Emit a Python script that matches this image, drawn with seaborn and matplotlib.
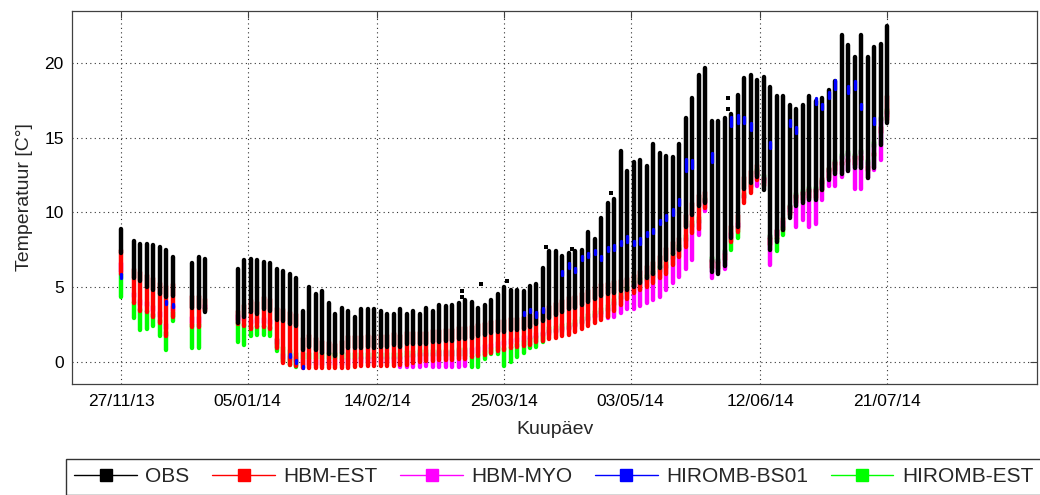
import numpy as np
import pandas as pd
import matplotlib
matplotlib.use("Agg")
import matplotlib.pyplot as plt
from matplotlib.lines import Line2D
import seaborn as sns

# ---------------- data (days since 27/11/2013) ----------------
days = [0,
        4, 6, 8, 10, 12, 14, 16,
        22, 24, 26,
        36, 38, 40, 42, 44, 46, 48, 50, 52, 54,
        56, 58, 60, 62, 64, 66, 68, 70, 72, 74,
        76, 78, 80, 82, 84, 86, 88, 90, 92, 94,
        96, 98, 100, 102, 104, 106, 108, 110, 112, 114,
        116, 118, 120, 122, 124, 126, 128, 130, 132, 134,
        136, 138, 140, 142, 144, 146, 148, 150, 152, 154,
        156, 158, 160, 162, 164, 166, 168, 170, 172, 174,
        176, 178, 180, 182, 184, 186, 188, 190, 192, 194,
        196, 198, 200, 202, 204, 206, 208, 210, 212, 214,
        216, 218, 220, 222, 224, 226, 228, 230, 232, 234,
        236]

obs_hi = [8.9,
          8.1, 7.9, 7.9, 7.8, 7.7, 7.5, 7.0,
          6.6, 7.0, 6.9,
          6.2, 6.8, 6.9, 6.8, 6.7, 6.6, 6.2, 6.1, 5.9, 5.6,
          3.4, 5.0, 4.5, 4.7, 3.9, 3.2, 3.6, 3.4, 3.0, 3.5,
          3.5, 3.5, 3.4, 3.2, 3.2, 3.5, 3.2, 3.4, 3.2, 3.6,
          3.4, 3.8, 3.7, 3.8, 3.9, 4.1, 4.0, 3.6, 3.8, 4.1,
          4.5, 5.0, 4.8, 4.8, 4.7, 5.1, 5.2, 6.3, 7.4, 7.4,
          7.1, 7.3, 7.4, 7.5, 8.7, 8.2, 9.6, 10.6, 10.9, 14.1,
          12.8, 13.4, 13.5, 13.1, 14.6, 14.0, 13.8, 13.7, 14.6, 16.3,
          17.7, 19.2, 19.7, 16.1, 16.1, 16.3, 16.6, 17.9, 19.0, 19.2,
          18.9, 19.1, 18.4, 17.8, 17.8, 17.2, 16.9, 17.2, 17.8, 17.5,
          17.7, 18.2, 18.8, 21.9, 21.2, 20.4, 21.9, 20.4, 21.1, 21.3,
          22.5]

obs_lo = [7.3,
          5.6, 5.4, 5.0, 4.8, 4.5, 4.3, 4.4,
          3.6, 3.6, 3.35,
          2.6, 3.0, 3.3, 3.2, 3.5, 3.4, 2.8, 2.7, 2.5, 2.4,
          0.8, 1.0, 0.8, 0.6, 0.5, 0.4, 0.6, 0.9, 0.9, 0.9,
          1.0, 0.9, 1.0, 1.0, 1.1, 1.0, 1.2, 1.2, 1.2, 1.2,
          1.3, 1.3, 1.4, 1.4, 1.5, 1.5, 1.6, 1.7, 1.8, 1.9,
          2.0, 2.0, 2.1, 2.1, 2.2, 2.3, 2.5, 2.7, 2.9, 3.1,
          3.3, 3.5, 3.6, 3.8, 4.0, 4.2, 4.4, 4.5, 4.6, 4.7,
          4.8, 5.0, 5.3, 5.6, 5.9, 6.3, 6.8, 7.2, 7.5, 9.0,
          9.8, 10.4, 10.6, 6.0, 5.9, 6.4, 8.3, 9.0, 11.6, 12.0,
          12.4, 11.5, 7.5, 8.0, 8.8, 9.6, 10.4, 10.6, 10.8, 10.8,
          11.5, 12.2, 12.6, 12.6, 12.8, 13.0, 13.0, 12.3, 13.0, 14.5,
          16.0]

hbm_est_lo = [5.9,
              3.9, 3.4, 3.3, 3.0, 2.6, 1.7, 3.0,
              2.3, 2.3, 3.4,
              2.5, 2.4, 2.2, 2.3, 2.3, 2.2, 0.9, -0.1, -0.2, -0.3,
              -0.45, -0.45, -0.45, -0.45, -0.45, -0.45, -0.4, -0.4, -0.35, -0.3,
              -0.3, -0.3, -0.3, -0.3, -0.3, -0.25, -0.2, -0.1, 0.0, 0.05,
              0.05, 0.1, 0.1, 0.1, 0.15, 0.15, 0.3, 0.35, 0.45, 0.6,
              0.7, 0.8, 0.9, 1.0, 1.05, 1.1, 1.3, 1.4, 1.5, 1.6,
              1.7, 1.8, 2.0, 2.2, 2.4, 2.6, 2.8, 3.0, 3.4, 3.8,
              4.2, 4.6, 4.8, 5.0, 5.3, 5.6, 5.9, 6.5, 7.0, 7.7,
              8.6, 8.9, 10.3, 6.3, 6.2, 6.8, 8.0, 8.7, 10.6, 11.3,
              12.2, 11.8, 7.8, 8.2, 8.8, 9.8, 10.6, 10.8, 11.0, 11.0,
              11.5, 12.3, 12.8, 13.2, 13.4, 13.2, 13.5, 12.8, 14.0, 15.7,
              16.2]

hbm_est_hi = [7.5,
              6.2, 6.0, 5.8, 5.6, 5.3, 5.1, 5.2,
              4.4, 4.4, 4.2,
              3.4, 3.8, 4.1, 4.0, 4.3, 4.2, 3.6, 3.5, 3.3, 3.2,
              1.6, 1.8, 1.6, 1.4, 1.3, 1.2, 1.4, 1.7, 1.7, 1.7,
              1.8, 1.7, 1.8, 1.8, 1.9, 1.8, 2.0, 2.0, 2.0, 2.0,
              2.1, 2.1, 2.2, 2.2, 2.3, 2.3, 2.4, 2.5, 2.6, 2.7,
              2.8, 2.8, 2.9, 2.9, 3.0, 3.1, 3.3, 3.5, 3.7, 3.9,
              4.1, 4.3, 4.4, 4.6, 4.8, 5.0, 5.2, 5.3, 5.4, 5.5,
              5.6, 5.8, 6.1, 6.4, 6.7, 7.1, 7.6, 8.0, 8.3, 9.8,
              10.6, 11.2, 11.4, 6.8, 6.7, 7.2, 9.1, 9.8, 12.4, 12.8,
              13.2, 12.3, 8.3, 8.8, 9.6, 10.4, 11.2, 11.4, 11.6, 11.6,
              12.3, 13.0, 13.4, 13.4, 13.6, 13.8, 13.8, 13.1, 13.8, 15.3,
              17.8]

hbm_myo_lo = [6.0,
              4.3, 3.8, 3.7, 3.4, 3.0, 2.2, 3.4,
              2.6, 2.6, 3.5,
              2.8, 2.7, 2.5, 2.6, 2.6, 2.5, 1.2, 0.2, 0.1, 0.0,
              -0.2, -0.2, -0.2, -0.2, -0.2, -0.2, -0.2, -0.2, -0.1, -0.1,
              -0.1, -0.1, -0.1, -0.1, -0.1, -0.35, -0.35, -0.35, -0.35, -0.3,
              -0.33, -0.33, -0.33, -0.33, -0.33, -0.3, 0.5, 0.6, 0.7, 0.9,
              1.0, 1.1, 1.2, 1.3, 1.4, 1.5, 1.6, 1.7, 1.8, 1.9,
              2.0, 2.1, 2.3, 2.5, 2.7, 2.9, 3.0, 2.9, 3.0, 3.25,
              3.5, 3.5, 3.7, 3.9, 4.1, 4.35, 4.8, 5.25, 5.7, 6.2,
              6.8, 8.5, 10.1, 5.6, 6.0, 6.2, 8.2, 8.9, 11.0, 11.6,
              11.8, 12.0, 6.5, 8.4, 9.0, 10.0, 9.05, 9.5, 9.05, 9.2,
              10.8, 11.8, 11.8, 12.4, 12.8, 11.6, 11.6, 12.3, 12.85, 13.5,
              16.4]

hbm_myo_hi = [6.6,
              4.6, 4.1, 4.0, 3.7, 3.3, 2.5, 3.7,
              3.0, 3.0, 3.8,
              3.1, 3.0, 2.8, 2.9, 2.9, 2.8, 1.5, 0.5, 0.4, 0.3,
              0.1, 0.1, 0.1, 0.1, 0.1, 0.1, 0.2, 0.2, 0.2, 0.3,
              0.3, 0.3, 0.3, 0.3, 0.3, 0.3, 0.4, 0.5, 0.6, 0.6,
              0.6, 0.7, 0.7, 0.7, 0.8, 0.8, 0.9, 1.0, 1.1, 1.2,
              1.3, 1.4, 1.5, 1.6, 1.7, 1.7, 1.9, 2.0, 2.1, 2.2,
              2.3, 2.4, 2.6, 2.8, 3.0, 3.2, 3.4, 3.6, 4.0, 4.4,
              4.8, 5.2, 5.4, 5.6, 5.9, 6.2, 6.5, 7.1, 7.6, 8.3,
              9.2, 9.5, 10.9, 6.9, 6.8, 7.4, 8.6, 9.3, 11.2, 11.9,
              12.8, 12.4, 8.4, 8.8, 9.4, 10.4, 11.2, 11.4, 11.6, 11.6,
              12.1, 12.9, 13.4, 13.8, 14.0, 13.8, 14.1, 13.4, 14.6, 16.3,
              16.8]

hiromb_est_lo = [4.3,
                 2.9, 2.1, 2.2, 2.4, 1.7, 0.8, 2.7,
                 0.9, 0.9, 3.5,
                 1.3, 1.1, 1.7, 1.8, 1.8, 1.7, 0.7, 0.0, -0.25, -0.35,
                 0.2, 0.2, 0.2, 0.2, 0.2, 0.2, 0.2, 0.2, 0.2, 0.2,
                 0.2, 0.2, 0.2, 0.2, 0.2, 0.2, 0.3, 0.3, 0.4, 0.4,
                 0.4, 0.4, 0.4, 0.4, 0.4, 0.4, -0.33, -0.33, 0.2, 0.5,
                 0.5, -0.3, 0.0, 0.3, 0.6, 0.9, 1.0, 1.3, 1.9, 2.0,
                 2.1, 2.2, 2.4, 2.6, 2.8, 3.0, 3.2, 3.4, 3.8, 4.2,
                 4.6, 5.0, 5.2, 5.4, 5.7, 6.0, 6.3, 6.9, 7.4, 8.1,
                 9.0, 9.3, 10.7, 6.7, 6.6, 7.2, 7.5, 8.3, 11.0, 11.7,
                 12.6, 12.2, 8.2, 7.4, 8.5, 10.2, 11.0, 11.2, 11.4, 11.4,
                 11.9, 12.7, 13.2, 13.6, 13.8, 13.6, 13.9, 13.2, 14.4, 16.1,
                 16.6]

hiromb_est_hi = [5.9,
                 4.0, 3.5, 3.4, 3.2, 2.8, 2.0, 3.3,
                 2.5, 2.5, 3.6,
                 2.6, 2.5, 2.3, 2.4, 2.4, 2.3, 1.5, 1.0, 0.8, 0.6,
                 0.6, 0.6, 0.6, 0.6, 0.6, 0.6, 0.6, 0.6, 0.6, 0.6,
                 0.6, 0.6, 0.6, 0.6, 0.6, 0.6, 0.7, 0.7, 0.8, 0.8,
                 0.8, 0.8, 0.8, 0.8, 0.9, 0.9, 0.4, 0.5, 0.7, 0.9,
                 1.0, 0.9, 1.0, 1.2, 1.4, 1.6, 1.7, 1.9, 2.3, 2.4,
                 2.5, 2.6, 2.8, 3.0, 3.2, 3.4, 3.6, 3.8, 4.2, 4.6,
                 5.0, 5.4, 5.6, 5.8, 6.1, 6.4, 6.7, 7.3, 7.8, 8.5,
                 9.4, 9.7, 11.0, 7.0, 6.9, 7.5, 8.2, 9.0, 11.3, 12.0,
                 12.9, 12.5, 8.5, 8.3, 9.0, 10.5, 11.3, 11.5, 11.7, 11.7,
                 12.2, 13.0, 13.5, 13.9, 14.1, 13.9, 14.2, 13.5, 14.7, 16.4,
                 16.9]

# HIROMB-BS01: only the parts that show through
bs01_days = [0, 14, 16, 52, 54, 56, 124, 126, 128, 130,
             136, 138, 140, 142, 144, 146, 148, 150, 152, 154,
             156, 158, 160, 162, 164, 166, 168, 170, 172, 174,
             176, 182, 188, 190, 192, 194, 200, 206, 208, 214,
             216, 218, 220, 224, 226, 228, 232]
bs01_lo = [5.6, 3.85, 3.65, 0.3, -0.1, -0.45, 3.1, 3.3, 3.0, 3.3,
           5.8, 6.3, 6.0, 6.8, 7.0, 7.2, 6.8, 7.4, 7.5, 7.8,
           8.0, 7.8, 7.9, 8.4, 8.6, 9.2, 9.5, 9.8, 10.5, 12.8,
           13.0, 13.4, 15.8, 16.0, 16.0, 15.5, 14.3, 15.8, 15.3, 17.3,
           16.9, 17.7, 18.3, 18.0, 18.3, 16.9, 15.9]
bs01_hi = [5.9, 4.05, 3.85, 0.5, 0.1, -0.3, 3.3, 3.5, 3.3, 3.6,
           6.1, 6.6, 6.3, 7.1, 7.3, 7.5, 7.1, 7.7, 7.8, 8.1,
           8.4, 8.1, 8.3, 8.7, 8.9, 9.5, 9.8, 10.2, 10.9, 13.6,
           13.5, 14.0, 16.4, 16.5, 16.4, 16.0, 14.7, 16.2, 15.7, 17.7,
           17.3, 18.1, 18.9, 18.5, 18.8, 17.3, 16.3]

# isolated observation points
obs_dot_days = [105, 105, 111, 119, 131, 139, 151, 187, 187]
obs_dot_vals = [4.75, 4.3, 5.2, 5.4, 7.65, 7.55, 11.3, 17.7, 16.9]

series_names = ["OBS", "HBM-EST", "HBM-MYO", "HIROMB-BS01", "HIROMB-EST"]
series_colors = ["#000000", "#ff0000", "#ff00ff", "#0000ff", "#00ff00"]
tick_days = [0, 39, 79, 118, 157, 197, 236]
tick_labels = ["27/11/13", "05/01/14", "14/02/14", "25/03/14",
               "03/05/14", "12/06/14", "21/07/14"]
y_ticks = [0, 5, 10, 15, 20]


def streak_frame(name, d, lo, hi):
    rows = []
    for i, (x, a, b) in enumerate(zip(d, lo, hi)):
        rows.append((name, i, x, a))
        rows.append((name, i, x, b))
    return pd.DataFrame(rows, columns=["series", "unit", "day", "temp"])


frames = {
    "HIROMB-EST": streak_frame("HIROMB-EST", days, hiromb_est_lo, hiromb_est_hi),
    "HBM-MYO": streak_frame("HBM-MYO", days, hbm_myo_lo, hbm_myo_hi),
    "HBM-EST": streak_frame("HBM-EST", days, hbm_est_lo, hbm_est_hi),
    "OBS": streak_frame("OBS", days, obs_lo, obs_hi),
    "HIROMB-BS01": streak_frame("HIROMB-BS01", bs01_days, bs01_lo, bs01_hi),
}
color_of = dict(zip(series_names, series_colors))
width_of = {"HIROMB-EST": 3.2, "HBM-MYO": 3.2, "HBM-EST": 3.2,
            "OBS": 3.2, "HIROMB-BS01": 2.4}

# ---------------- style ----------------
sns.set_style("white")
plt.rcParams["font.family"] = ["Liberation Sans", "DejaVu Sans"]

fig = plt.figure(figsize=(10.4, 4.95), dpi=100)
ax = fig.add_axes([72 / 1040, 1 - 384 / 495, (1037 - 72) / 1040, (384 - 11) / 495])

for name in ["HIROMB-EST", "HBM-MYO", "HBM-EST", "OBS", "HIROMB-BS01"]:
    sns.lineplot(data=frames[name], x="day", y="temp", units="unit",
                 estimator=None, sort=False, color=color_of[name],
                 linewidth=width_of[name], ax=ax, legend=False)

dots = pd.DataFrame({"day": obs_dot_days, "temp": obs_dot_vals})
sns.scatterplot(data=dots, x="day", y="temp", color="black", marker="s",
                s=10, linewidth=0, ax=ax, legend=False)

ax.set_xlim(-15.1, 282.2)
ax.set_ylim(-1.5, 23.5)
ax.set_xticks(tick_days)
ax.set_xticklabels(tick_labels)
ax.set_yticks(y_ticks)
ax.set_axisbelow(True)
ax.grid(True, linestyle=(0, (1, 3)), color="0.2", linewidth=0.8)
ax.tick_params(direction="in", length=5, width=0.8, top=True, right=True,
               labelsize=12.5, colors="0.25", labelcolor="black")
ax.tick_params(axis="x", pad=7)
ax.tick_params(axis="y", pad=6)
for sp in ax.spines.values():
    sp.set_color("0.25")
    sp.set_linewidth(0.9)

ax.set_xlabel("Kuupäev", fontsize=14)
ax.set_ylabel("Temperatuur [C°]", fontsize=14)
ax.xaxis.set_label_coords(0.5, (384 - 421) / 373)
ax.yaxis.set_label_coords((33 - 72) / 965, 0.5)

handles = [Line2D([0], [0], color=c, lw=1.0, marker="s", markersize=8,
                  markerfacecolor=c, markeredgecolor=c)
           for c in series_colors]
leg = fig.legend(handles, series_names, loc="upper left",
                 bbox_to_anchor=(66 / 1040, 1 - 459 / 495),
                 bbox_transform=fig.transFigure, ncol=5, frameon=True,
                 fancybox=False, edgecolor="black", fontsize=15,
                 handlelength=3.0, handletextpad=0.4, columnspacing=1.1,
                 borderpad=0.4, borderaxespad=0)
leg.get_frame().set_linewidth(1.0)

fig.savefig("out.png", dpi=100)
